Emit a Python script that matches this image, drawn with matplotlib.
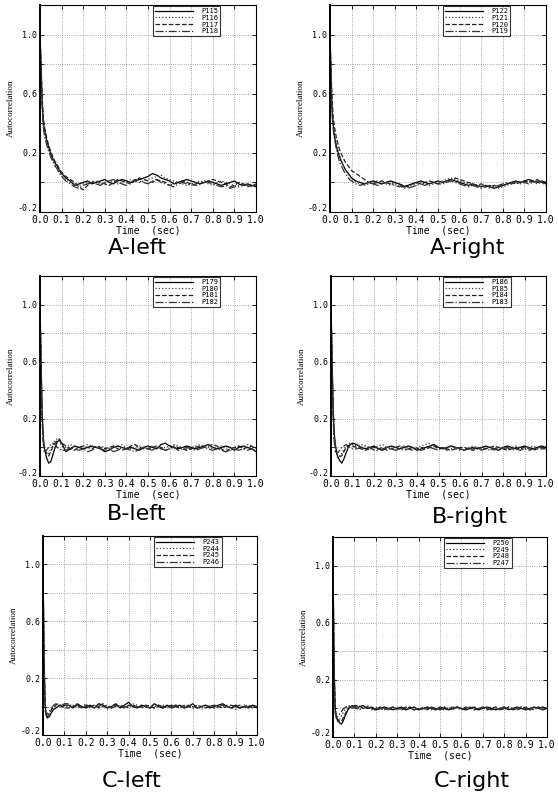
import numpy as np
import matplotlib
matplotlib.use("Agg")
import matplotlib.pyplot as plt
from matplotlib.transforms import ScaledTranslation

# time axis (sec), shared by all panels
TIME = [0, 0.005, 0.01, 0.015, 0.02, 0.03, 0.04, 0.05, 0.06, 0.07, 0.08, 0.09, 0.10,
        0.12, 0.14, 0.16, 0.18, 0.20, 0.22, 0.24, 0.26, 0.28, 0.30,
        0.32, 0.34, 0.36, 0.38, 0.40, 0.42, 0.44, 0.46, 0.48, 0.50,
        0.52, 0.54, 0.56, 0.58, 0.60, 0.62, 0.64, 0.66, 0.68, 0.70,
        0.72, 0.74, 0.76, 0.78, 0.80, 0.82, 0.84, 0.86, 0.88, 0.90,
        0.92, 0.94, 0.96, 0.98, 1.00]

# autocorrelation values in hundredths
# A-left
P115 = [100, 78, 55, 42, 36, 29, 24, 19, 16, 13, 11, 8, 6,
        3, 1, -2, -1, 0, 1, -1, 0, 1, 2, 0, -1, 1, 2, 1, 0, 1, 2, 3, 4, 6, 5, 3, 2, 1,
        -1, 0, 1, 2, 1, 0, -1, 0, 1, 0, -1, -2, -1, 0, 1, -1, -2, -1, -2, -3]
P116 = [100, 75, 52, 40, 34, 27, 22, 18, 15, 12, 10, 7, 5,
        2, 0, -1, -2, -1, 0, 1, 0, -1, 0, 1, 0, -1, 0, 1, 2, 1, 0, 1, 2, 3, 4, 5, 3, 2,
        1, 0, -1, -2, -1, 0, 1, 0, -1, -2, 0, 1, 0, -1, -2, -3, -2, -1, -2, -2]
P117 = [100, 80, 58, 45, 38, 31, 25, 21, 17, 14, 12, 9, 7,
        4, 2, 0, -3, -5, -2, 0, 1, 0, -1, -2, 0, 2, 1, 0, -1, 1, 3, 2, 1, 0, 2, 1, 0, -2,
        -1, 0, 1, 0, -1, -2, -1, 0, 1, 2, 1, 0, -1, -3, -2, 0, -1, -3, -2, -1]
P118 = [100, 72, 50, 38, 32, 26, 21, 17, 14, 11, 9, 6, 4,
        1, -1, -3, -4, -2, -1, 0, -1, -2, 0, 1, 2, 0, -1, -2, 0, 2, 1, 0, -1, 1, 2, 0, -1, -2,
        -3, -1, 0, -1, -2, -1, 0, 1, 0, -1, -2, -3, -2, -4, -3, -2, -1, -2, -3, -2]
# A-right
P122 = [100, 70, 48, 38, 32, 24, 19, 15, 12, 9, 7, 5, 3,
        1, 0, -1, 0, 1, 0, -1, 0, 1, 0, -1, -3, -2, -1, 0, 1, 0, -1, 0, 1, 0, 1, 2, 1, 0,
        -1, -2, -1, -2, -3, -2, -3, -4, -3, -2, -1, 0, 1, 0, 1, 2, 1, 0, 1, 0]
P121 = [100, 72, 50, 40, 34, 26, 20, 16, 12, 9, 6, 4, 2,
        0, -1, -2, -1, 0, 1, 0, -1, -2, -1, -2, -4, -3, -2, -1, 0, -1, -2, -1, 0, 1, 2, 3, 2, 1,
        0, -1, -2, -3, -2, -3, -4, -3, -4, -3, -2, -1, 0, -1, 0, 1, 0, -1, 0, -1]
P120 = [100, 75, 55, 44, 38, 30, 24, 20, 17, 14, 12, 10, 8,
        6, 4, 2, 0, -1, 0, 1, 0, -1, 0, -1, -2, -3, -1, 0, -1, 0, 1, 0, -1, 0, 1, 2, 3, 2,
        1, 0, -1, -2, -1, -2, -3, -2, -3, -2, -1, 0, -1, 0, 1, 0, 1, 2, 0, -1]
P119 = [100, 68, 45, 36, 30, 22, 16, 12, 9, 6, 4, 2, 1,
        -1, -2, -1, 0, -1, -2, -1, 0, -1, -2, -3, -2, -4, -3, -2, -1, -2, -1, 0, -1, -1, 0, 1, 0, -1,
        -2, -3, -2, -3, -4, -3, -2, -3, -2, -1, 0, -1, 0, 1, 0, -1, 0, 1, 0, -2]
# B-left
P179 = [100, 60, 25, 8, 0, -7, -11, -10, -5, 0, 4, 5, 3,
        -3, -1, 1, 0, -1, 0, 1, 0, -1, -3, -2, 0, 1, 0, -1, 0, -1, -2, 0, 1, 0, -1, 2, 3, 1,
        0, -1, 0, 1, 0, -1, 0, 1, 2, 0, -1, 0, 1, 0, -2, 0, 1, 0, -1, -3]
P180 = [100, 55, 20, 5, -2, -5, -4, -1, 2, 5, 6, 4, 1,
        0, 2, 1, 0, 1, 2, 1, 0, 1, 0, -1, 0, 1, 2, 0, -1, 0, 1, 0, -1, 1, 0, -1, 0, 1,
        2, 1, 0, -1, 0, 1, 2, 1, 0, -1, 0, 1, -1, -2, 0, 1, 0, 2, 1, -1]
P181 = [100, 58, 22, 6, -1, -4, -6, -3, 1, 3, 5, 6, 3,
        1, -1, -2, 0, 1, 0, -1, 1, 0, -1, 0, 1, -1, -2, -1, 1, 2, 0, -1, -1, 0, 1, 0, -2, -1,
        1, 0, -1, -2, -1, 0, 1, 0, 1, 2, 1, -1, -3, -1, 0, 1, -1, 0, 1, -1]
P182 = [100, 52, 18, 3, -3, -2, 0, 2, 3, 2, 0, -1, -2,
        -2, 0, -1, -2, -1, -3, -2, 0, -1, -2, -1, -3, -2, 0, -1, -2, -3, -1, 0, -1, -2, 0, -1, -2, -1,
        0, -2, -1, 0, -1, -2, -1, 0, -1, -2, -1, -2, -3, -2, -1, -2, -1, -2, -1, -2]
# B-right
P186 = [100, 62, 28, 10, 2, -6, -9, -11, -8, -4, 0, 2, 3,
        2, 0, -1, 0, 1, -1, -2, 0, 1, 0, -1, 0, 1, 0, -2, -1, 0, 1, 2, 0, -1, 0, 1, 0, -1,
        -2, -1, 0, -1, 0, 1, 0, -1, -2, 0, 1, 0, -1, 0, 1, 0, -1, 0, 1, 0]
P185 = [100, 58, 24, 7, 0, -7, -7, -4, -1, 1, 2, 3, 2,
        1, 2, 1, -1, 0, 1, 2, 0, -1, -2, 0, 1, 0, -1, 0, 1, 2, 3, 1, 0, -1, 0, 1, -1, -2,
        -1, 0, 1, 0, -1, 0, -1, -2, -1, 0, -1, 0, 1, 0, -1, 0, 1, 0, -1, 0]
P184 = [100, 60, 26, 8, 0, -5, -6, -6, -3, 0, 1, 2, 1,
        0, -1, -2, -1, 0, -1, 0, -2, -1, 0, 1, 0, -1, -2, -1, 0, -1, 0, 1, -1, 0, -1, -2, -1, 0,
        0, -1, -2, -1, 0, -1, 0, 1, 0, -1, -2, -1, 0, -1, 0, -1, -2, -1, 0, -1]
P183 = [100, 55, 20, 4, -3, -4, -2, 0, 1, 2, 1, 0, -1,
        -1, 0, 1, 0, -2, -2, -1, 0, -1, -2, -1, -2, -1, 0, -1, -2, -1, 0, -1, -2, 0, -2, -1, 0, -1,
        -2, -1, -1, 0, -2, -1, -2, -1, 0, -1, 0, -2, -1, -2, -1, -2, -1, 0, -1, -1]
# C-left
P243 = [100, 35, 2, -6, -8, -7, -4, -2, -1, 0, 1, 0, 1,
        1, -1, 2, 0, -1, 1, -1, 2, 1, -1, 0, 2, -1, 1, 3, 0, -1, 1, 0, -1, 2, 0, -1, 1, -1,
        0, 1, -1, 0, 2, -1, 0, 1, -1, 0, 1, 2, 0, -1, 1, -1, 0, -1, 1, 0]
P244 = [100, 30, -2, -5, -6, -5, -3, -1, 0, 1, 0, -1, 0,
        0, 1, -1, 0, 2, -1, 0, 1, 0, -2, 1, 0, 1, -1, 0, 2, 1, -1, 0, 1, -1, 0, 1, 0, -1,
        1, -1, 0, 1, -1, 0, -2, 0, 1, 0, -1, 0, 1, -1, -2, 0, 1, -1, 0, -1]
P245 = [100, 32, 0, -7, -7, -5, -2, 0, 1, 2, 1, 0, -1,
        -1, 0, 1, -1, 0, 0, 1, -1, 0, 1, -1, 1, 0, -1, 1, 0, -1, 0, 1, 0, -1, 1, -1, 0, 1,
        0, -1, 1, 0, -1, 1, 0, -1, 0, 1, 0, -1, 0, 1, 0, -1, 0, 1, -1, 0]
P246 = [100, 28, -3, -6, -5, -3, -1, 1, 2, 1, 0, 1, 2,
        2, 0, 1, -1, 1, 0, -1, 0, 2, 0, -1, 0, 1, 0, -1, 1, 0, -1, 0, -1, 0, 1, 0, -1, 0,
        1, 0, -1, 1, 0, -1, 0, 1, 0, -1, 0, 1, 0, -1, 0, 1, -1, 0, 1, -1]
# C-right
P250 = [100, 30, 0, -6, -8, -10, -11, -8, -4, -1, 1, 2, 1,
        1, 2, 0, 1, -1, 0, 1, 0, -1, 0, 1, -1, 0, 1, -1, 0, 1, 0, -1, 1, 0, -1, 0, 1, 0,
        -1, 0, 1, -1, 0, 1, 0, -1, 0, 1, -1, 0, 1, 0, -1, 0, 1, 0, 1, 0]
P249 = [100, 28, -2, -7, -9, -8, -5, -2, 0, 1, 2, 1, 0,
        0, 1, 2, 0, 1, -1, 0, -1, 0, 1, 0, -1, 1, 0, -1, 1, 0, -1, 0, 0, 1, 0, -1, 1, 0,
        -1, 1, 0, -1, 0, 0, 1, -1, 0, 1, 0, -1, 0, 1, -1, 0, -1, 1, 0, -1]
P248 = [100, 33, 2, -5, -7, -9, -9, -6, -3, 0, 1, 1, 2,
        2, 0, 1, 0, -1, 1, 0, -1, 1, 0, -1, 0, 1, -1, 0, 0, -1, 1, 0, -1, 1, -1, 0, 1, 0,
        0, 1, -1, 0, 1, -1, 0, 1, 0, -1, 1, 0, -1, 0, 1, -1, 0, 1, -1, 0]
P247 = [100, 25, -3, -6, -6, -4, -2, 0, 1, 2, 1, 0, 1,
        -1, 0, 1, -1, 0, 0, -1, 0, 1, -1, 0, 1, 0, -1, 0, -1, 0, 1, -1, 0, -1, 0, 1, 0, -1,
        1, 0, -1, 0, 1, 0, -1, 0, -1, 0, 1, -1, 0, 1, 0, -1, 1, 0, -1, 1]

panels = [
    ("A-left", ["P115", "P116", "P117", "P118"], [P115, P116, P117, P118]),
    ("A-right", ["P122", "P121", "P120", "P119"], [P122, P121, P120, P119]),
    ("B-left", ["P179", "P180", "P181", "P182"], [P179, P180, P181, P182]),
    ("B-right", ["P186", "P185", "P184", "P183"], [P186, P185, P184, P183]),
    ("C-left", ["P243", "P244", "P245", "P246"], [P243, P244, P245, P246]),
    ("C-right", ["P250", "P249", "P248", "P247"], [P250, P249, P248, P247]),
]

# axes boxes in pixels: left, right, top, bottom ; caption centre x, y
W, H = 558, 794
boxes = [(40, 256, 5, 212, 137, 248), (330, 546, 5, 212, 468, 248),
         (40, 256, 276, 476, 137, 514), (331, 546, 276, 476, 470, 517),
         (43, 257, 536, 735, 132, 781), (333, 547, 537, 737, 472, 781)]

styles = [("-", "black"), (":", "#444444"), ("--", "#222222"), ("-.", "#333333")]
mono = "DejaVu Sans Mono"

fig = plt.figure(figsize=(W / 100, H / 100), dpi=100)
t = np.array(TIME)

for (caption, names, series), (l, r, tp, bt, cx, cy) in zip(panels, boxes):
    ax = fig.add_axes([l / W, 1 - bt / H, (r - l) / W, (bt - tp) / H])
    for name, vals, (ls, col) in zip(names, series, styles):
        ax.plot(t, np.array(vals) / 100.0, ls=ls, color=col, lw=0.9, label=name)
    ax.set_xlim(0, 1.0)
    ax.set_ylim(-0.2, 1.2)
    ax.set_xticks(np.round(np.arange(0, 1.01, 0.1), 1))
    ax.set_xticklabels(["%.1f" % v for v in np.arange(0, 1.01, 0.1)],
                       fontsize=7, family=mono)
    ax.set_yticks([-0.2, 0.2, 0.6, 1.0])
    ax.set_yticklabels(["-0.2", "0.2", "0.6", "1.0"], fontsize=6, family=mono)
    ax.set_yticks([0.0, 0.4, 0.8], minor=True)
    ax.tick_params(which="both", direction="in", top=True, right=True,
                   length=3, width=0.6)
    ax.tick_params(axis="x", pad=2.5)
    ax.tick_params(axis="y", pad=2)
    # nudge the lowest y label up so it clears the x labels
    lab = ax.get_yticklabels()[0]
    lab.set_transform(lab.get_transform() + ScaledTranslation(0, 4 / 100, fig.dpi_scale_trans))
    ax.grid(True, which="both", ls=":", lw=0.6, color="#888888")
    ax.set_xlabel("Time  (sec)", fontsize=7, family=mono, labelpad=0)
    ax.set_ylabel("Autocorrelation", fontsize=6.5, family="Liberation Serif",
                  labelpad=2)
    for sp in ax.spines.values():
        sp.set_linewidth(0.8)
    ax.spines["left"].set_linewidth(1.4)
    leg = ax.legend(loc="upper right", bbox_to_anchor=(0.835, 0.995),
                    prop={"family": mono, "size": 5},
                    frameon=True, fancybox=False, borderpad=0.3,
                    labelspacing=0.1, handlelength=5.5, handletextpad=1.2,
                    borderaxespad=0)
    leg.get_frame().set_edgecolor("black")
    leg.get_frame().set_linewidth(0.8)
    fig.text(cx / W, 1 - cy / H, caption, fontsize=16, ha="center", va="center",
             family="DejaVu Sans")

fig.savefig("out.png", dpi=100)
